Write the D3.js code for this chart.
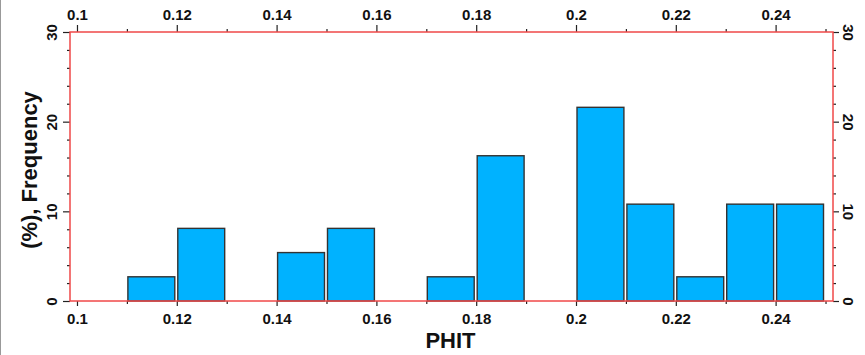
<!DOCTYPE html>
<html>
<head>
<meta charset="utf-8">
<script src="https://cdn.jsdelivr.net/npm/d3@7"></script>
<style>
	body { margin: 0; background: #fff; }
	svg { display: block; }
</style>
</head>
<body>
<div id="chart"></div>
<script>
var width = 865;
var height = 355;

// plot frame
var frame = {left: 70, right: 833, top: 32, bottom: 301};

// histogram of PHIT, bin width 0.01
var binStart = [0.11, 0.12, 0.14, 0.15, 0.17, 0.18, 0.20, 0.21, 0.22, 0.23, 0.24];
var frequency = [2.7, 8.1, 5.4, 8.1, 2.7, 16.2, 21.6, 10.8, 2.7, 10.8, 10.8];
var binWidth = 0.01;

var xMajor = [0.1, 0.12, 0.14, 0.16, 0.18, 0.2, 0.22, 0.24];
var xMinor = [0.11, 0.13, 0.15, 0.17, 0.19, 0.21, 0.23, 0.25];
var yMajor = [0, 10, 20, 30];
var yMinor = [2, 4, 6, 8, 12, 14, 16, 18, 22, 24, 26, 28];

var tickFont = "bold 15px 'Liberation Sans', Arial, sans-serif";
var titleFont = "bold 22px 'Liberation Sans', Arial, sans-serif";

var svg = d3.select("#chart").append("svg")
	.attr("width", width)
	.attr("height", height);

// window edge
svg.append("line")
	.attr("x1", 0.5).attr("x2", 0.5)
	.attr("y1", 0).attr("y2", height)
	.attr("stroke", "#999");

var x = d3.scaleLinear([0.0986, 0.2515], [frame.left, frame.right]);
var y = d3.scaleLinear([0, 30], [frame.bottom, frame.top]);

// bars
svg.append("g")
	.selectAll("rect")
	.data(binStart)
	.join("rect")
	.attr("x", d => x(d) + 1)
	.attr("width", d => x(d + binWidth) - x(d) - 3)
	.attr("y", (d, i) => y(frequency[i]))
	.attr("height", (d, i) => y(0) - y(frequency[i]))
	.attr("fill", "#00b2ff")
	.attr("stroke", "#333")
	.attr("stroke-width", 1.4);

function styleAxis(g) {
	g.select(".domain").remove();
	g.selectAll(".tick line").attr("stroke", "#222").attr("stroke-width", 1.2);
	g.selectAll("text").attr("fill", "#111").style("font", tickFont);
}

// bottom
svg.append("g")
	.attr("transform", `translate(0,${frame.bottom})`)
	.call(d3.axisBottom(x).tickValues(xMajor).tickSize(5).tickFormat(d3.format("")))
	.call(styleAxis)
	.call(g => g.selectAll("text").attr("y", 23).attr("dy", 0));
svg.append("g")
	.attr("transform", `translate(0,${frame.bottom})`)
	.call(d3.axisBottom(x).tickValues(xMinor).tickSize(3).tickFormat(""))
	.call(styleAxis);

// top
svg.append("g")
	.attr("transform", `translate(0,${frame.top})`)
	.call(d3.axisTop(x).tickValues(xMajor).tickSize(7).tickFormat(d3.format("")))
	.call(styleAxis)
	.call(g => g.selectAll("text").attr("y", -12).attr("dy", 0));
svg.append("g")
	.attr("transform", `translate(0,${frame.top})`)
	.call(d3.axisTop(x).tickValues(xMinor).tickSize(3).tickFormat(""))
	.call(styleAxis);

// left
svg.append("g")
	.attr("transform", `translate(${frame.left},0)`)
	.call(d3.axisLeft(y).tickValues(yMajor).tickSize(7))
	.call(styleAxis)
	.call(g => g.selectAll("text")
		.attr("transform", "rotate(-90)")
		.attr("text-anchor", "middle")
		.attr("x", 0).attr("y", -13).attr("dy", 0));
svg.append("g")
	.attr("transform", `translate(${frame.left},0)`)
	.call(d3.axisLeft(y).tickValues(yMinor).tickSize(3).tickFormat(""))
	.call(styleAxis);

// right
svg.append("g")
	.attr("transform", `translate(${frame.right},0)`)
	.call(d3.axisRight(y).tickValues(yMajor).tickSize(6))
	.call(styleAxis)
	.call(g => g.selectAll("text")
		.attr("transform", "rotate(90)")
		.attr("text-anchor", "middle")
		.attr("x", 0).attr("y", -10).attr("dy", 0));
svg.append("g")
	.attr("transform", `translate(${frame.right},0)`)
	.call(d3.axisRight(y).tickValues(yMinor).tickSize(3).tickFormat(""))
	.call(styleAxis);

// red frame on top of bars
svg.append("rect")
	.attr("x", frame.left)
	.attr("y", frame.top)
	.attr("width", frame.right - frame.left)
	.attr("height", frame.bottom - frame.top)
	.attr("fill", "none")
	.attr("stroke", "#f04848")
	.attr("stroke-width", 1.5);

// titles
svg.append("text")
	.attr("x", (frame.left + frame.right) / 2 - 1)
	.attr("y", 348)
	.attr("text-anchor", "middle")
	.style("font", titleFont)
	.attr("fill", "#111")
	.text("PHIT");

svg.append("text")
	.attr("transform", "translate(37,170) rotate(-90)")
	.attr("text-anchor", "middle")
	.style("font", titleFont)
	.attr("fill", "#111")
	.text("(%), Frequency");
</script>
</body>
</html>
